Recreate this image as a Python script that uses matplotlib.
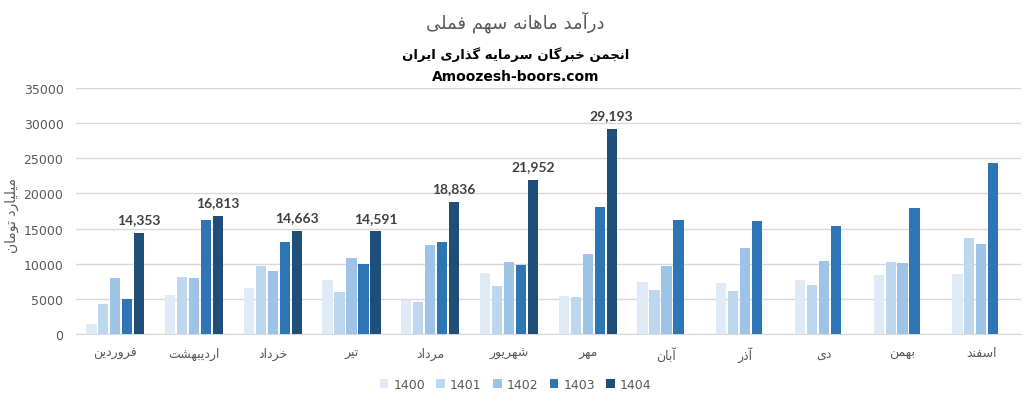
import numpy as np
import matplotlib
matplotlib.use("Agg")
from matplotlib import pyplot as plt

# ---- data ----
months = ["فروردین", "اردیبهشت", "خرداد", "تیر", "مرداد", "شهریور",
          "مهر", "آبان", "آذر", "دی", "بهمن", "اسفند"]
years = ["1400", "1401", "1402", "1403", "1404"]
v1400 = [1420, 5550, 6540, 7680, 4840, 8680, 5400, 7400, 7250, 7680, 8390, 8530]
v1401 = [4270, 8100, 9670, 5970, 4550, 6830, 5260, 6260, 6120, 6970, 10240, 13660]
v1402 = [7970, 7970, 8960, 10810, 12660, 10240, 11380, 9670, 12230, 10380, 10100, 12800]
v1403 = [5000, 16200, 13090, 9950, 13090, 9860, 18070, 16220, 16070, 15360, 17920, 24320]
v1404 = [14353, 16813, 14663, 14591, 18836, 21952, 29193]
colors = ["#DEEBF7", "#BDD7EE", "#9DC3E6", "#2E75B6", "#1F4E79"]

# ---- simple persian shaping (no arabic_reshaper available) ----
forms = {
    "ا": (0xFE8D, 0xFE8E), "آ": (0xFE81, 0xFE82),
    "د": (0xFEA9, 0xFEAA), "ذ": (0xFEAB, 0xFEAC),
    "ر": (0xFEAD, 0xFEAE), "ز": (0xFEAF, 0xFEB0),
    "و": (0xFEED, 0xFEEE),
    "ب": (0xFE8F, 0xFE90, 0xFE91, 0xFE92), "ت": (0xFE95, 0xFE96, 0xFE97, 0xFE98),
    "ج": (0xFE9D, 0xFE9E, 0xFE9F, 0xFEA0), "خ": (0xFEA5, 0xFEA6, 0xFEA7, 0xFEA8),
    "س": (0xFEB1, 0xFEB2, 0xFEB3, 0xFEB4), "ش": (0xFEB5, 0xFEB6, 0xFEB7, 0xFEB8),
    "ف": (0xFED1, 0xFED2, 0xFED3, 0xFED4), "ل": (0xFEDD, 0xFEDE, 0xFEDF, 0xFEE0),
    "م": (0xFEE1, 0xFEE2, 0xFEE3, 0xFEE4), "ن": (0xFEE5, 0xFEE6, 0xFEE7, 0xFEE8),
    "ه": (0xFEE9, 0xFEEA, 0xFEEB, 0xFEEC), "ی": (0xFBFC, 0xFBFD, 0xFBFE, 0xFBFF),
    "گ": (0xFB92, 0xFB93, 0xFB94, 0xFB95),
}


def fa(s):
    out = []
    for i, c in enumerate(s):
        if c not in forms:
            out.append(c)
            continue
        prev = s[i - 1] if i > 0 else ""
        nxt = s[i + 1] if i + 1 < len(s) else ""
        jp = prev in forms and len(forms[prev]) == 4
        jn = len(forms[c]) == 4 and nxt in forms
        f = forms[c]
        if jp and jn:
            g = f[3]
        elif jp:
            g = f[1]
        elif jn:
            g = f[2]
        else:
            g = f[0]
        out.append(chr(g))
    return "".join(out[::-1])


plt.rcParams["font.family"] = ["DejaVu Sans"]

fig = plt.figure(figsize=(10.31, 4.02), dpi=100)
ax = fig.add_axes([0.0737, 0.1667, 0.9163, 0.6119])

x = np.arange(len(months))
w = 0.13
step = 0.152
series = [v1400, v1401, v1402, v1403, v1404]
for k, vals in enumerate(series):
    n = len(vals)
    ax.bar(x[:n] + (k - 2) * step, vals, width=w, color=colors[k], label=years[k], zorder=3)

for i, v in enumerate(v1404):
    ax.text(x[i] + 2 * step, v + 1100, f"{v:,}", ha="center", va="bottom",
            fontsize=10, fontweight="bold", color="#404040", family="Lato")

ax.set_xlim(-0.5, len(months) - 0.5)
ax.set_ylim(0, 35000)
ax.set_yticks(range(0, 35001, 5000))
ax.yaxis.grid(True, color="#D9D9D9", linewidth=1, zorder=0)
for s in ["top", "right", "left"]:
    ax.spines[s].set_visible(False)
ax.spines["bottom"].set_color("#D9D9D9")
ax.tick_params(axis="both", length=0, colors="#595959", labelsize=9)
ax.tick_params(axis="y", pad=9)
ax.set_xticks(x)
ax.set_xticklabels([fa(m) for m in months], fontsize=9, color="#595959")
ax.tick_params(axis="x", pad=9)

fig.text(12 / 1031, 0.465, fa("میلیارد تومان"), rotation=90, ha="center", va="center",
         fontsize=10, color="#595959")

fig.text(0.5, 0.945, fa("درآمد ماهانه سهم فملی"), ha="center", va="center",
         fontsize=13, color="#595959")
fig.text(0.5, 0.863, fa("انجمن خبرگان سرمایه گذاری ایران"), ha="center", va="center",
         fontsize=9.5, fontweight="bold", color="black")
fig.text(0.5, 0.808, "Amoozesh-boors.com", ha="center", va="center",
         fontsize=10, fontweight="bold", color="black")

leg = fig.legend(loc="center", bbox_to_anchor=(0.5, 0.042), ncol=5, frameon=False,
                 fontsize=9, handlelength=0.7, handleheight=0.7, handletextpad=0.4,
                 columnspacing=0.9)
for t in leg.get_texts():
    t.set_color("#595959")

fig.savefig("out.png", dpi=100)
